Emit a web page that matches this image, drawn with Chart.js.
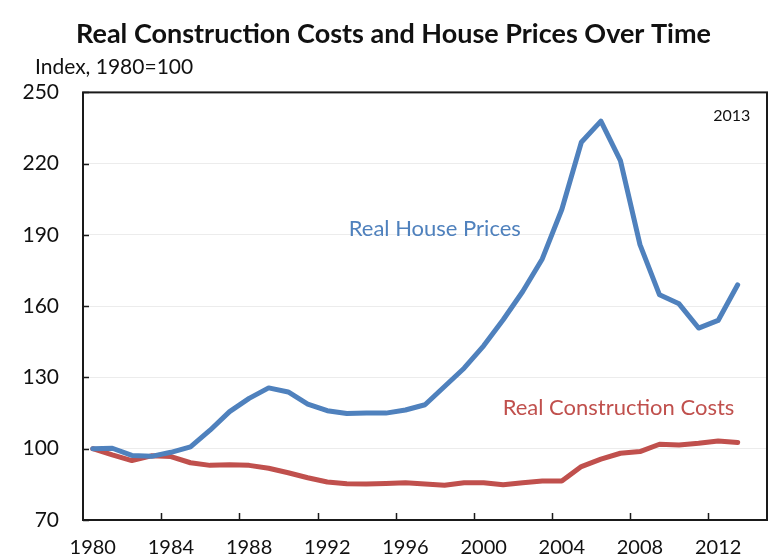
<!DOCTYPE html>
<html>
<head>
<meta charset="utf-8">
<script src="https://cdn.jsdelivr.net/npm/chart.js@4"></script>
<style>
  html, body { margin: 0; padding: 0; background: #ffffff; }
  #wrap { width: 778px; height: 560px; position: relative; }
</style>
</head>
<body>
<div id="wrap"><canvas id="chart"></canvas></div>
<script>
// ---- data ----
const years = [1980,1981,1982,1983,1984,1985,1986,1987,1988,1989,1990,1991,1992,1993,1994,1995,1996,
               1997,1998,1999,2000,2001,2002,2003,2004,2005,2006,2007,2008,2009,2010,2011,2012,2013];
const housePrices = [100,100.2,97.2,96.8,98.5,100.8,107.8,115.6,121.2,125.6,123.9,118.8,116,114.8,115,115,116.3,
                     118.5,126.2,133.9,143.3,154.3,166.2,179.9,200.7,229,237.9,221.3,185.9,164.8,161,150.8,154,169];
const constructionCosts = [100,97.4,95,97,96.7,94.1,93,93.3,93,91.8,89.9,87.8,86,85.3,85.2,85.4,85.7,
                           85.2,84.6,85.7,85.7,84.8,85.7,86.4,86.4,92.5,95.6,98.1,98.8,101.9,101.6,102.3,103.3,102.6];
const yTicks = [70,100,130,160,190,220,250];
const xTickLabels = [1980,1984,1988,1992,1996,2000,2004,2008,2012];
const seriesNames = ['Real House Prices','Real Construction Costs'];

const BLUE = '#4F81BD';
const RED = '#C0504D';
const FONT = 'Lato, "Open Sans", "Liberation Sans", sans-serif';

const framePlugin = {
  id: 'frame',
  afterDraw(chart) {
    const ctx = chart.ctx;
    const a = chart.chartArea;
    const xs = chart.scales.x, ys = chart.scales.y;
    ctx.save();
    ctx.strokeStyle = '#1a1a1a';
    ctx.lineWidth = 2;
    ctx.strokeRect(a.left, a.top, a.right - a.left, a.bottom - a.top);
    // inner tick marks on x axis (at category boundaries)
    ctx.lineWidth = 1.5;
    ctx.beginPath();
    xTickLabels.forEach(v => {
      if (v === years[0]) return;
      const px = Math.round(xs.getPixelForValue(v - 0.5)) + 0.5;
      ctx.moveTo(px, a.bottom);
      ctx.lineTo(px, a.bottom - 7);
    });
    // inner tick marks on y axis
    yTicks.forEach(v => {
      const py = Math.round(ys.getPixelForValue(v)) + 0.5;
      ctx.moveTo(a.left, py);
      ctx.lineTo(a.left + 6, py);
    });
    ctx.stroke();

    // texts
    ctx.textBaseline = 'middle';
    ctx.textAlign = 'left';
    ctx.fillStyle = '#111';
    ctx.font = '21px ' + FONT;
    ctx.fillText('Index, 1980=100', 35, 67);

    ctx.textAlign = 'center';
    ctx.font = '16px ' + FONT;
    ctx.fillStyle = '#111';
    ctx.fillText('2013', xs.getPixelForValue(2012.7), ys.getPixelForValue(240));

    ctx.font = '22px ' + FONT;
    ctx.fillStyle = BLUE;
    ctx.fillText(seriesNames[0], xs.getPixelForValue(1997.5), ys.getPixelForValue(192.7));
    ctx.fillStyle = RED;
    ctx.fillText(seriesNames[1], xs.getPixelForValue(2006.9), ys.getPixelForValue(117.2));
    ctx.restore();
  }
};

new Chart(document.getElementById('chart'), {
  type: 'line',
  data: {
    datasets: [
      {
        label: seriesNames[0],
        data: years.map((y, i) => ({ x: y, y: housePrices[i] })),
        borderColor: BLUE,
        backgroundColor: BLUE,
        borderWidth: 5,
        pointRadius: 0,
        tension: 0,
        borderJoinStyle: 'round',
        borderCapStyle: 'round'
      },
      {
        label: seriesNames[1],
        data: years.map((y, i) => ({ x: y, y: constructionCosts[i] })),
        borderColor: RED,
        backgroundColor: RED,
        borderWidth: 5,
        pointRadius: 0,
        tension: 0,
        borderJoinStyle: 'round',
        borderCapStyle: 'round'
      }
    ]
  },
  options: {
    responsive: true,
    maintainAspectRatio: false,
    animation: false,
    layout: { padding: { left: 20, right: 11, top: 0, bottom: 0 } },
    plugins: {
      legend: { display: false },
      tooltip: { enabled: false },
      title: {
        display: true,
        text: 'Real Construction Costs and House Prices Over Time',
        color: '#111',
        font: { family: FONT, size: 27, weight: 'bold', lineHeight: 1.2 },
        padding: { top: 18, bottom: 42 }
      }
    },
    scales: {
      x: {
        type: 'linear',
        min: years[0] - 0.5,
        max: years[years.length - 1] + 1.5,
        afterBuildTicks(scale) { scale.ticks = xTickLabels.map(v => ({ value: v })); },
        afterFit(scale) { scale.height = 40; },
        grid: { display: false, drawTicks: false },
        border: { display: false },
        ticks: {
          autoSkip: false,
          maxRotation: 0,
          padding: 16,
          color: '#111',
          font: { family: FONT, size: 20 },
          callback: (v) => String(v)
        }
      },
      y: {
        min: 70,
        max: 250,
        afterBuildTicks(scale) { scale.ticks = yTicks.map(v => ({ value: v })); },
        afterFit(scale) { scale.width = 63; },
        grid: {
          drawTicks: false,
          color: (c) => (c.tick && (c.tick.value === 70 || c.tick.value === 250)) ? 'rgba(0,0,0,0)' : '#ececec',
          lineWidth: 1
        },
        border: { display: false },
        ticks: {
          padding: 24,
          color: '#111',
          font: { family: FONT, size: 21 }
        }
      }
    }
  },
  plugins: [framePlugin]
});
</script>
</body>
</html>
